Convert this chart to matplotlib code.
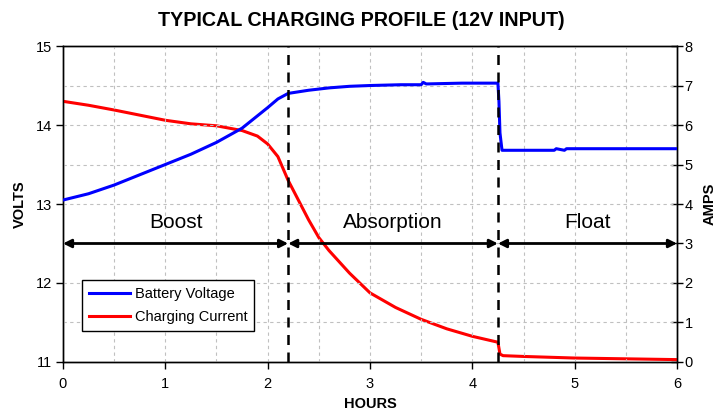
import matplotlib
matplotlib.use("Agg")
import matplotlib.pyplot as plt
from matplotlib.lines import Line2D

plt.rcParams['font.family'] = ['Liberation Sans', 'DejaVu Sans']

hours_v = [0, 0.25, 0.5, 0.75, 1.0, 1.25, 1.5, 1.75, 2.0, 2.1, 2.2, 2.4, 2.6, 2.8, 3.0,
           3.3, 3.5, 3.52, 3.55, 3.9, 4.22, 4.25, 4.26, 4.27, 4.29, 4.5, 4.8, 4.82, 4.9,
           4.92, 5.0, 5.5, 6.0]
volts = [13.05, 13.13, 13.24, 13.37, 13.5, 13.63, 13.78, 13.96, 14.22, 14.33, 14.4, 14.44,
         14.47, 14.49, 14.5, 14.51, 14.51, 14.54, 14.52, 14.53, 14.53, 14.53, 14.3, 13.9,
         13.68, 13.68, 13.68, 13.7, 13.68, 13.7, 13.7, 13.7, 13.7]

hours_a = [0, 0.25, 0.5, 0.75, 1.0, 1.25, 1.5, 1.75, 1.9, 2.0, 2.1, 2.2, 2.3, 2.4, 2.5,
           2.6, 2.8, 3.0, 3.25, 3.5, 3.75, 4.0, 4.25, 4.27, 4.3, 4.5, 5.0, 5.5, 6.0]
amps = [6.6, 6.5, 6.38, 6.25, 6.12, 6.03, 5.98, 5.86, 5.72, 5.52, 5.2, 4.6, 4.1, 3.6, 3.15,
        2.82, 2.25, 1.75, 1.38, 1.08, 0.84, 0.65, 0.5, 0.2, 0.16, 0.14, 0.1, 0.08, 0.06]

phase_bounds = [0, 2.2, 4.25, 6]
phase_names = ["Boost", "Absorption", "Float"]

fig = plt.figure(figsize=(7.23, 4.12), dpi=100)
ax = fig.add_axes([0.0871, 0.1214, 0.8493, 0.7669])
ax2 = ax.twinx()

ax.set_xlim(0, 6)
ax.set_ylim(11, 15)
ax2.set_ylim(0, 8)

grid_kw = dict(color='#c0c0c0', linestyle=(0, (3, 3)), linewidth=0.8)
for xv in [0.5 * i for i in range(1, 12)]:
    ax.axvline(xv, zorder=0, **grid_kw)
for yv in [11 + 0.5 * i for i in range(1, 8)]:
    ax.axhline(yv, zorder=0, **grid_kw)

ax2.plot(hours_a, amps, color='#ff0000', lw=2.2, zorder=3)
ax.plot(hours_v, volts, color='#0000ff', lw=2.2, zorder=3)
ax.set_zorder(ax2.get_zorder() + 1)
ax.patch.set_visible(False)

for xb in phase_bounds[1:-1]:
    ax.axvline(xb, color='black', lw=1.8, linestyle=(0, (4, 3)), zorder=4)

for i, name in enumerate(phase_names):
    x0, x1 = phase_bounds[i], phase_bounds[i + 1]
    ax.annotate('', xy=(x1, 12.5), xytext=(x0, 12.5),
                arrowprops=dict(arrowstyle='<|-|>', color='black', lw=2,
                                mutation_scale=12, shrinkA=0, shrinkB=0), zorder=5)
    ax.text((x0 + x1) / 2, 12.76, name, ha='center', va='center', fontsize=15)

ax.set_xticks(range(0, 7))
ax.set_yticks(range(11, 16))
ax2.set_yticks(range(0, 9))
ax.tick_params(axis='both', direction='out', length=5, width=1, labelsize=10.5, colors='black')
ax.tick_params(axis='y', pad=3)
ax.tick_params(axis='x', pad=6)
ax2.tick_params(axis='y', direction='inout', length=8, width=1, labelsize=10.5, pad=1.5)

for a in (ax, ax2):
    for s in a.spines.values():
        s.set_linewidth(1)
        s.set_color('black')

ax.set_ylabel('VOLTS', fontsize=10.5, fontweight='bold', labelpad=6)
ax2.set_ylabel('AMPS', fontsize=10.5, fontweight='bold', labelpad=7)
ax.set_xlabel('HOURS', fontsize=10.5, fontweight='bold', labelpad=4)
fig.text(0.5, 1 - 20 / 412, 'TYPICAL CHARGING PROFILE (12V INPUT)', fontsize=14.2,
         fontweight='bold', ha='center', va='center')

handles = [Line2D([], [], color='#0000ff', lw=2.2), Line2D([], [], color='#ff0000', lw=2.2)]
leg = ax.legend(handles, ['Battery Voltage', 'Charging Current'], loc='lower left',
                bbox_to_anchor=(0.031, 0.098), fontsize=10.5, frameon=True, fancybox=False,
                edgecolor='black', framealpha=1, handlelength=2.8, borderpad=0.5,
                labelspacing=0.6, handletextpad=0.3, borderaxespad=0)
leg.get_frame().set_linewidth(1)
leg.set_zorder(10)

fig.savefig('out.png', dpi=100)
